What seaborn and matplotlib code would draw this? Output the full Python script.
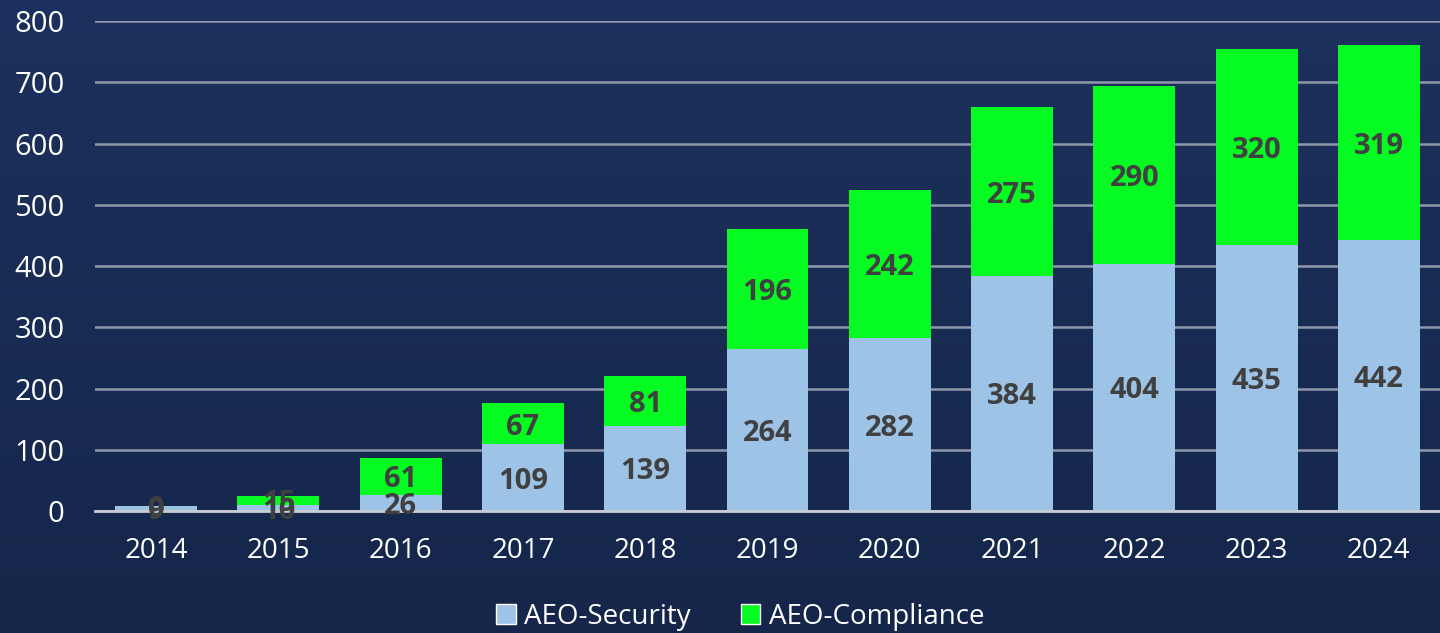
import matplotlib
matplotlib.use("Agg")
import matplotlib.pyplot as plt
import numpy as np
import pandas as pd
import seaborn as sns
from matplotlib.patches import Patch


YEARS = ["2014", "2015", "2016", "2017", "2018", "2019", "2020", "2021", "2022", "2023", "2024"]
SECURITY = [9, 10, 26, 109, 139, 264, 282, 384, 404, 435, 442]
COMPLIANCE = [0, 15, 61, 67, 81, 196, 242, 275, 290, 320, 319]
Y_TICKS = [0, 100, 200, 300, 400, 500, 600, 700, 800]

SECURITY_COLOR = "#9dc3e6"
COMPLIANCE_COLOR = "#05fb22"
LABEL_COLOR = "#404040"
FONT = ["Open Sans", "DejaVu Sans"]


def main():
    df = pd.DataFrame({"year": YEARS, "security": SECURITY, "compliance": COMPLIANCE})
    df["total"] = df["security"] + df["compliance"]

    sns.set_style("white")
    plt.rcParams["font.family"] = FONT

    fig = plt.figure(figsize=(14.4, 6.33), dpi=100)

    # background gradient
    bg = fig.add_axes([0, 0, 1, 1], zorder=-10)
    grad = np.linspace(0, 1, 256).reshape(-1, 1)
    bg.imshow(grad, aspect="auto", extent=[0, 1, 0, 1],
              cmap=matplotlib.colors.LinearSegmentedColormap.from_list("bg", ["#1c315d", "#15264a"]))
    bg.axis("off")

    ax = fig.add_axes([0.066, 0.1927, 0.934, 0.7741])
    ax.set_facecolor("none")

    # =========================
    # STACKED BARS
    # =========================
    sns.barplot(data=df, x="year", y="total", color=COMPLIANCE_COLOR, saturation=1,
                width=0.67, linewidth=0, ax=ax, zorder=3)
    sns.barplot(data=df, x="year", y="security", color=SECURITY_COLOR, saturation=1,
                width=0.67, linewidth=0, ax=ax, zorder=4)

    for i, row in df.iterrows():
        ax.text(i, row["security"] / 2, str(row["security"]), ha="center",
                va="center_baseline", fontsize=21, fontweight="bold", color=LABEL_COLOR, zorder=8)
        ax.text(i, row["security"] + row["compliance"] / 2, str(row["compliance"]),
                ha="center", va="center_baseline", fontsize=21, fontweight="bold",
                color=LABEL_COLOR, zorder=8)

    ax.set_ylim(0, 800)
    ax.set_xlim(-0.5, len(YEARS) - 0.5)
    ax.set_yticks(Y_TICKS)
    ax.yaxis.grid(True, color="#8f98ab", linewidth=1.8, zorder=0)
    ax.set_axisbelow(True)
    for side in ["top", "right", "left"]:
        ax.spines[side].set_visible(False)
    ax.spines["bottom"].set_color("#c8ccd4")
    ax.spines["bottom"].set_linewidth(2)
    ax.spines["bottom"].set_zorder(6)

    ax.tick_params(axis="y", length=0, pad=22, labelsize=21, labelcolor="white")
    ax.tick_params(axis="x", length=0, pad=19, labelsize=20, labelcolor="white")
    ax.set_xlabel("")
    ax.set_ylabel("")

    handles = [Patch(facecolor=SECURITY_COLOR, label="AEO-Security"),
               Patch(facecolor=COMPLIANCE_COLOR, label="AEO-Compliance")]
    fig.legend(handles=handles, loc="center", bbox_to_anchor=(0.514, 0.026), ncol=2,
               frameon=False, fontsize=20, labelcolor="white", handlelength=0.7,
               handleheight=0.7, handletextpad=0.3, columnspacing=1.8)

    fig.savefig("out.png", dpi=100, facecolor="#182b52")
    plt.close(fig)


if __name__ == "__main__":
    main()
